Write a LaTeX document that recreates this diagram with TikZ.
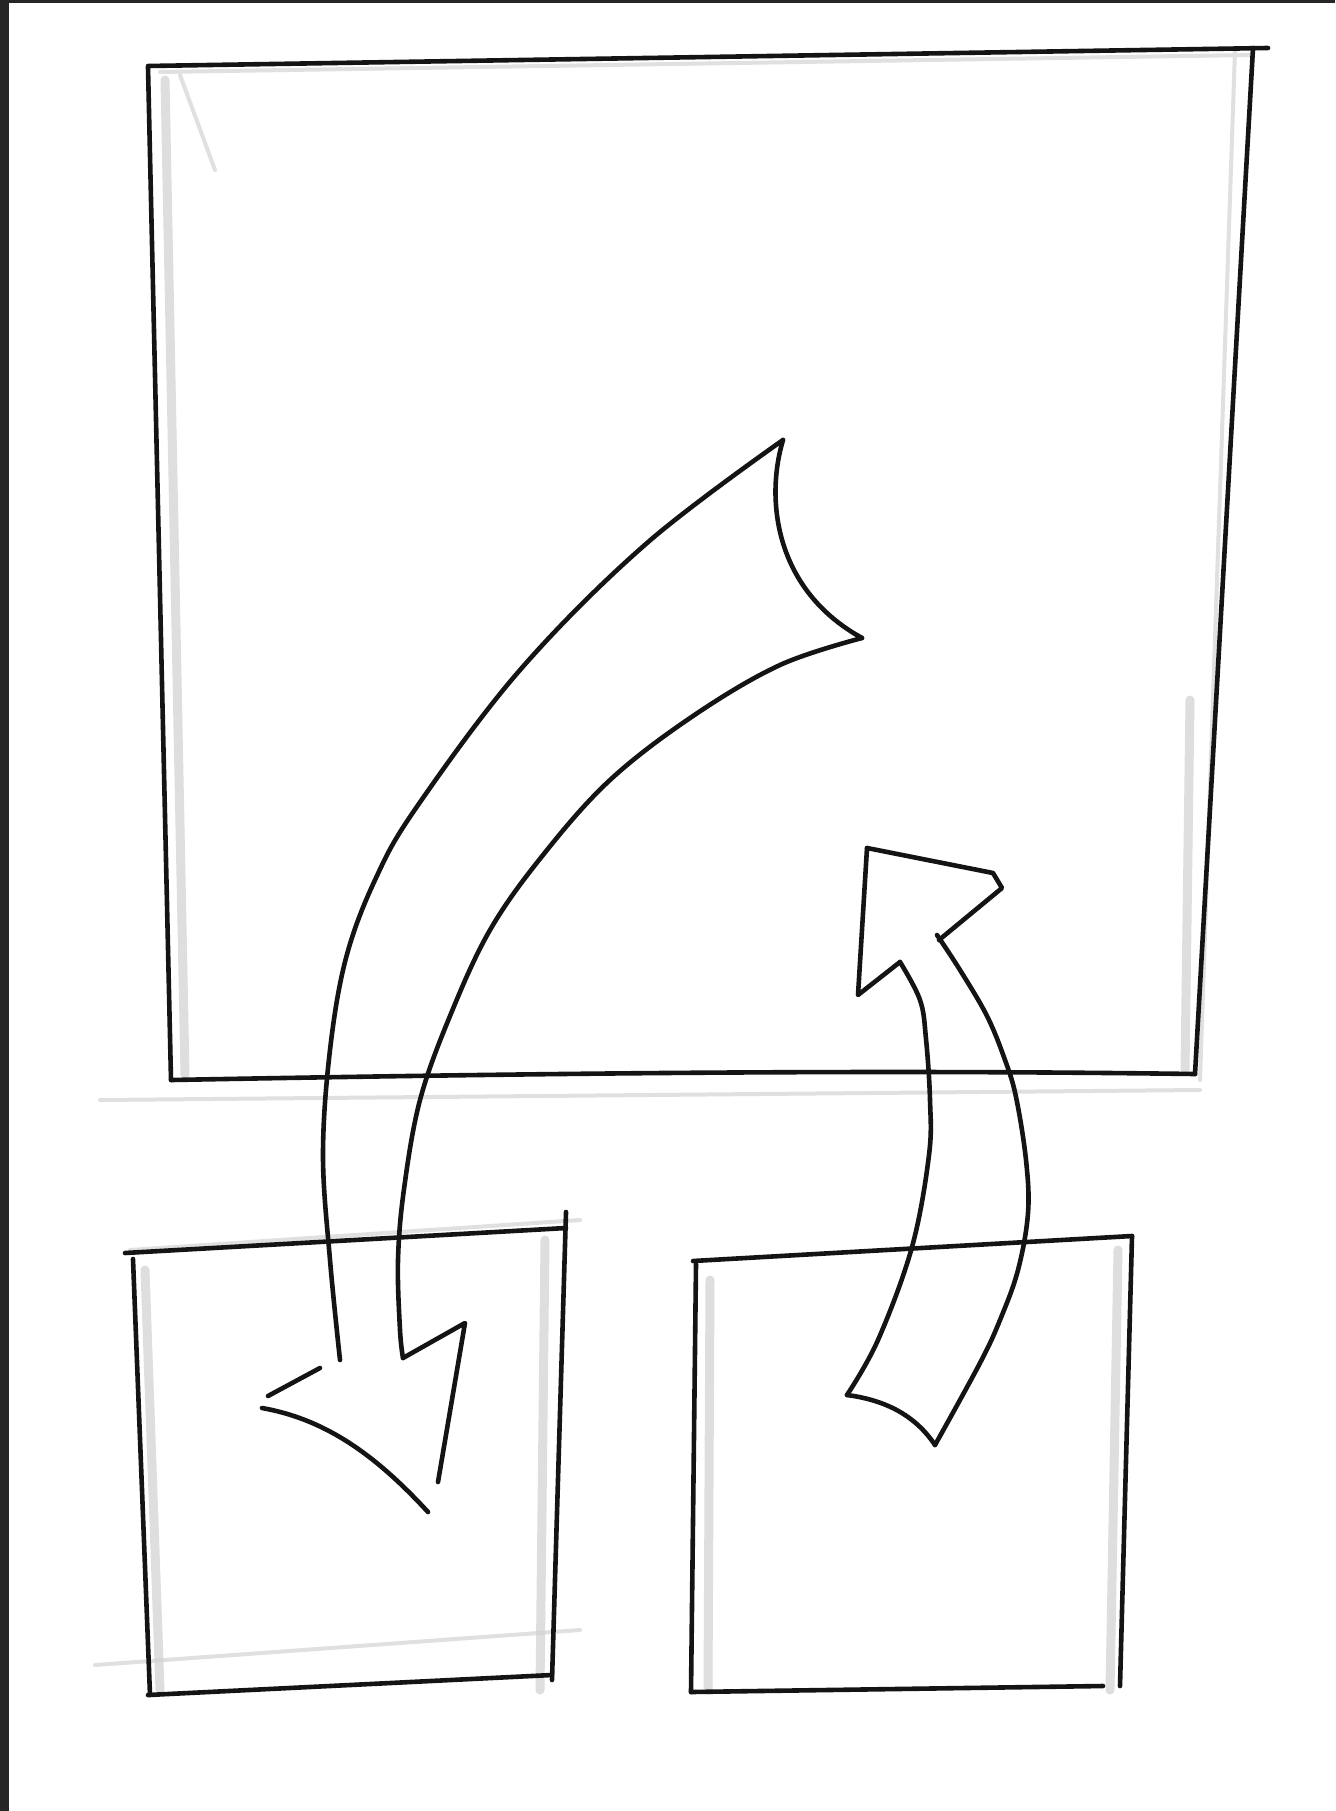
\documentclass[tikz,border=0pt]{standalone}
\begin{document}
\begin{tikzpicture}[x=1pt,y=-1pt,
  ink/.style={line width=4.6pt,line cap=round,line join=round,draw=black!92},
  pencil/.style={line width=9pt,draw=black!18,line cap=round,opacity=0.7},
  faint/.style={line width=4pt,draw=black!12,line cap=round}]
\useasboundingbox[fill=white] (0,0) rectangle (1335,1811);
\fill[black!85] (0,0) rectangle (9,1811);
\fill[black!85] (0,0) rectangle (1335,3);
% pencil shading
\draw[faint] (160,72) -- (1250,55);
\draw[faint] (100,1100) -- (1200,1090);
\draw[faint] (95,1665) -- (580,1630);
\draw[faint] (130,1250) -- (580,1220);
\draw[faint] (180,75) -- (215,170);
\draw[faint] (1235,50) -- (1200,1080);
\draw[pencil] (165,80) -- (185,1075);
\draw[pencil] (145,1270) -- (160,1690);
\draw[pencil] (545,1240) -- (540,1690);
\draw[pencil] (1118,1250) -- (1110,1690);
\draw[pencil] (710,1280) -- (708,1690);
\draw[pencil] (1190,700) -- (1185,1070);
% big square
\draw[ink] (148,66) -- (1268,48);
\draw[ink] (148,67) -- (171,1080);
\draw[ink] (171,1080) .. controls (600,1072) and (900,1070) .. (1195,1074);
\draw[ink] (1253,48) -- (1195,1074);
% bottom-left square
\draw[ink] (125,1253) -- (566,1228);
\draw[ink] (133,1259) -- (150,1695);
\draw[ink] (148,1695) -- (552,1675);
\draw[ink] (566,1212) -- (552,1680);
% bottom-right square
\draw[ink] (693,1261) -- (1132,1236);
\draw[ink] (696,1264) -- (691,1692);
\draw[ink] (691,1692) -- (1103,1686);
\draw[ink] (1132,1236) -- (1120,1686);
% big arrow
\draw[ink] plot[smooth,tension=0.6] coordinates {(340,1360) (330,1260) (323,1155) (330,1050) (346,958) (375,880) (416,808) (520,670) (647,543) (783,440)};
\draw[ink] (783,440) .. controls (765,500) and (775,590) .. (862,638);
\draw[ink] plot[smooth,tension=0.6] coordinates {(862,638) (780,665) (693,716) (610,780) (543,855) (490,930) (450,1016) (420,1100) (404,1189) (398,1260) (400,1330) (403,1358)};
\draw[ink] (403,1358) -- (465,1323) -- (438,1482);
\draw[ink] (320,1368) -- (268,1396);
\draw[ink] (262,1408) .. controls (330,1420) and (380,1460) .. (428,1512);
% small arrow
\draw[ink] (867,848) -- (993,873) -- (1002,888) -- (939,940);
\draw[ink] (867,848) -- (858,995) -- (900,962);
\draw[ink] plot[smooth,tension=0.6] coordinates {(937,935) (960,970) (987,1016) (1005,1060) (1016,1097) (1026,1160) (1028,1213) (1018,1270) (1000,1320) (980,1363) (935,1445)};
\draw[ink] plot[smooth,tension=0.6] coordinates {(900,962) (920,1000) (926,1039) (930,1100) (929,1155) (912,1247) (878,1340) (847,1395)};
\draw[ink] (847,1395) .. controls (885,1400) and (915,1415) .. (935,1445);
\end{tikzpicture}
\end{document}
